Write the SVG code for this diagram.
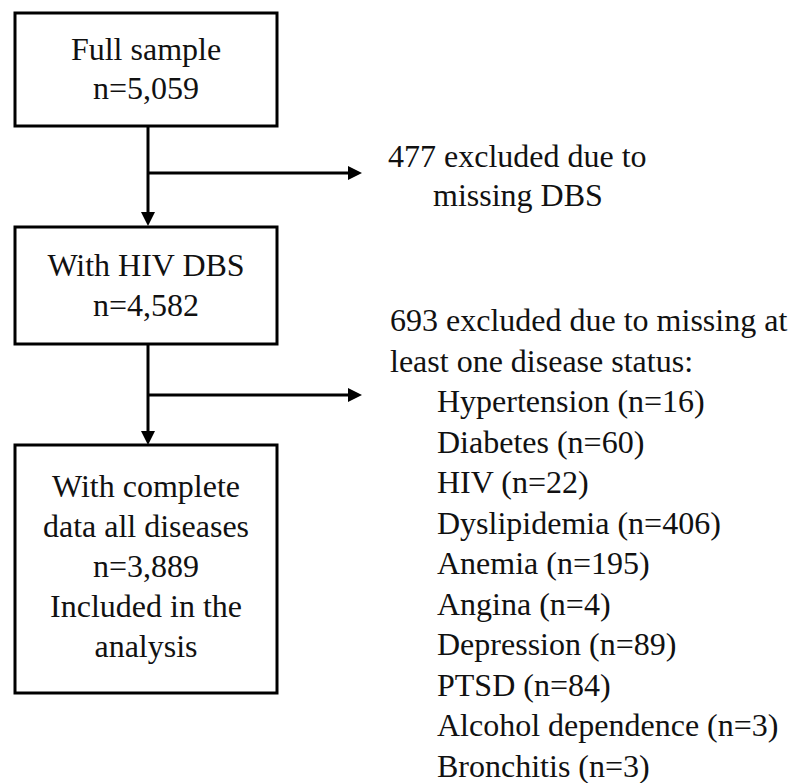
<svg xmlns="http://www.w3.org/2000/svg" width="798" height="783" viewBox="0 0 798 783">
<style>
.box{fill:#fff;stroke:#000;stroke-width:3}
.t{font-family:"Liberation Serif","Times New Roman",serif;font-size:32px;fill:#111}
.c{text-anchor:middle}
.ln{stroke:#000;stroke-width:3;fill:none}
</style>
<defs>
<marker id="ah" viewBox="0 0 14 14" markerWidth="14" markerHeight="14" markerUnits="userSpaceOnUse" refX="0" refY="7" orient="auto">
<path d="M0,0 L14,7 L0,14 z" fill="#000"/>
</marker>
</defs>
<rect width="798" height="783" fill="#fff"/>
<g id="connectors">
<path class="ln" d="M148,126 V212" marker-end="url(#ah)"/>
<path class="ln" d="M148,173 H348" marker-end="url(#ah)"/>
<path class="ln" d="M148,344 V431" marker-end="url(#ah)"/>
<path class="ln" d="M148,395 H348" marker-end="url(#ah)"/>
</g>
<g id="full-sample">
<rect class="box" x="15" y="13" width="262" height="113"/>
<text class="t c" x="146" y="60">Full sample</text>
<text class="t c" x="146" y="99">n=5,059</text>
</g>
<g id="with-hiv-dbs">
<rect class="box" x="15" y="227" width="262" height="117"/>
<text class="t c" x="146" y="276">With HIV DBS</text>
<text class="t c" x="146" y="316">n=4,582</text>
</g>
<g id="complete-data">
<rect class="box" x="15" y="445" width="262" height="248"/>
<text class="t c" x="146" y="497">With complete</text>
<text class="t c" x="146" y="537">data all diseases</text>
<text class="t c" x="146" y="577">n=3,889</text>
<text class="t c" x="146" y="617">Included in the</text>
<text class="t c" x="146" y="657">analysis</text>
</g>
<g id="excluded-dbs">
<text class="t" x="388" y="167">477 excluded due to</text>
<text class="t" x="433" y="206">missing DBS</text>
</g>
<g id="excluded-disease">
<text class="t" x="390" y="331">693 excluded due to missing at</text>
<text class="t" x="390" y="372">least one disease status:</text>
<text class="t" x="437" y="412">Hypertension (n=16)</text>
<text class="t" x="437" y="453">Diabetes (n=60)</text>
<text class="t" x="437" y="493">HIV (n=22)</text>
<text class="t" x="437" y="534">Dyslipidemia (n=406)</text>
<text class="t" x="437" y="574">Anemia (n=195)</text>
<text class="t" x="437" y="615">Angina (n=4)</text>
<text class="t" x="437" y="655">Depression (n=89)</text>
<text class="t" x="437" y="696">PTSD (n=84)</text>
<text class="t" x="437" y="736">Alcohol dependence (n=3)</text>
<text class="t" x="437" y="777">Bronchitis (n=3)</text>
</g>
</svg>
